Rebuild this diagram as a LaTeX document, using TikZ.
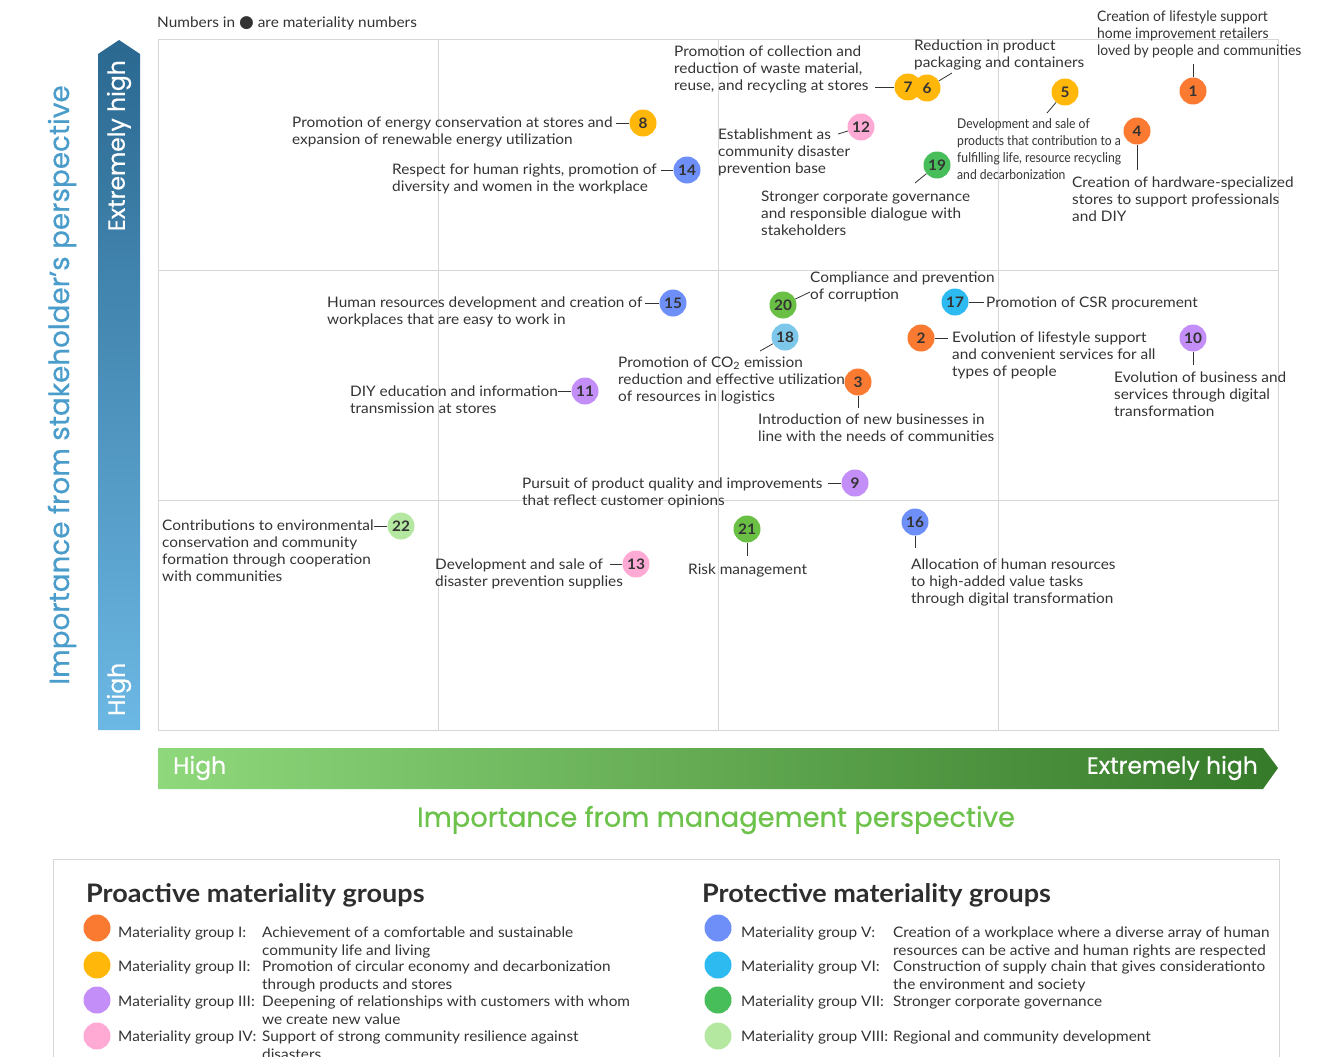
\documentclass[tikz,border=0pt]{standalone}
\usepackage{fontspec}
\setmainfont{Lato}[FakeStretch=1.06]
\newfontfamily\titlefont{Poppins}[FakeBold=0.6]
\newfontfamily\narrowA{Lato}[FakeStretch=0.96]
\newfontfamily\narrowB{Lato}[FakeStretch=0.9]
\newfontfamily\dejavu{DejaVu Sans}
\usetikzlibrary{shapes.geometric}
\definecolor{gI}{HTML}{F97A30}
\definecolor{gII}{HTML}{FFB70A}
\definecolor{gIII}{HTML}{C38EF7}
\definecolor{gIV}{HTML}{FFAAD5}
\definecolor{gV}{HTML}{6F8FF8}
\definecolor{gVI}{HTML}{2CBAF0}
\definecolor{gVIb}{HTML}{7DC7EA}
\definecolor{gVII}{HTML}{48BE5A}
\definecolor{gVIIb}{HTML}{6ABF45}
\definecolor{gVIII}{HTML}{B4E8A0}
\definecolor{gridc}{HTML}{D6D6D6}
\definecolor{txt}{HTML}{333333}
\definecolor{bluetop}{HTML}{2A6890}
\definecolor{bluebot}{HTML}{6CB8E4}
\definecolor{greenl}{HTML}{8FD87B}
\definecolor{greend}{HTML}{357A29}
\definecolor{axblue}{HTML}{4A9CCB}
\definecolor{axgreen}{HTML}{6CC24A}
\begin{document}
\begin{tikzpicture}[x=1pt,y=-1pt,
  mc/.style={circle, minimum size=27pt, inner sep=0pt, font=\fontsize{14.5}{14.5}\selectfont\bfseries, text=txt},
  lc/.style={circle, minimum size=27pt, inner sep=0pt},
  lbl/.style={anchor=base west, align=left, inner sep=0pt, font=\fontsize{14.5}{17}\selectfont, text=txt},
  lblA/.style={lbl, font=\narrowA\fontsize{14.5}{17}\selectfont},
  lblB/.style={lbl, font=\narrowB\fontsize{13.5}{17}\selectfont},
  ln/.style={draw=txt, line width=0.8pt},
  grid/.style={draw=gridc, line width=1pt},
  leg/.style={anchor=base west, align=left, inner sep=0pt, font=\fontsize{14.5}{18}\selectfont, text=txt},
  legt/.style={anchor=base west, inner sep=0pt, font=\bfseries\fontsize{25.5}{28}\selectfont, text=txt!90!black},
  axt/.style={font=\titlefont\fontsize{23.5}{26}\selectfont, text=white, inner sep=0pt}
]
\useasboundingbox (0,0) rectangle (1326,1057);
% grid
\draw[grid] (158,40) rectangle (1278,730);
\foreach \xx in {438,718,998} \draw[grid] (\xx,40) -- (\xx,730);
\foreach \yy in {270,500} \draw[grid] (158,\yy) -- (1278,\yy);
% axes arrows
\shade[top color=bluetop, bottom color=bluebot] (98,730) -- (98,54) -- (119,40) -- (140,54) -- (140,730) -- cycle;
\shade[left color=greenl, right color=greend] (158,748) -- (1263,748) -- (1278,768) -- (1263,789) -- (158,789) -- cycle;
\node[axt, rotate=90, anchor=west] (yhigh) at (119,716) {High};
\node[axt, rotate=90, anchor=east] (yext) at (119,60) {Extremely high};
\node[axt, anchor=west] (xhigh) at (173,768) {High};
\node[axt, anchor=east] (xext) at (1258,768) {Extremely high};
\node[rotate=90, font=\titlefont\fontsize{27.8}{30}\selectfont, text=axblue] (ytitle) at (62,385) {Importance from stakeholder’s perspective};
\node[font=\titlefont\fontsize{27.3}{30}\selectfont, text=axgreen] (xtitle) at (716,820) {Importance from management perspective};
% note
\node[lbl] (note) at (157,28) {Numbers in {\dejavu\fontsize{17}{17}\selectfont ●} are materiality numbers};
% circles
\node[mc,fill=gI] (c1) at (1193,91) {1};
\node[mc,fill=gI] (c2) at (921,338) {2};
\node[mc,fill=gI] (c3) at (858,382) {3};
\node[mc,fill=gI] (c4) at (1137,131) {4};
\node[mc,fill=gII] (c5) at (1065,92) {5};
\node[mc,fill=gII] (c7) at (908,87) {7};
\node[mc,fill=gII] (c6) at (927,88) {6};
\node[mc,fill=gII] (c8) at (643,123) {8};
\node[mc,fill=gIII] (c9) at (855,483) {9};
\node[mc,fill=gIII] (c10) at (1193,338) {10};
\node[mc,fill=gIII] (c11) at (585,391) {11};
\node[mc,fill=gIV] (c12) at (861,127) {12};
\node[mc,fill=gIV] (c13) at (636,564) {13};
\node[mc,fill=gV] (c14) at (687,170) {14};
\node[mc,fill=gV] (c15) at (673,303) {15};
\node[mc,fill=gV] (c16) at (915,522) {16};
\node[mc,fill=gVI] (c17) at (955,302) {17};
\node[mc,fill=gVIb] (c18) at (785,337) {18};
\node[mc,fill=gVII] (c19) at (937,165) {19};
\node[mc,fill=gVIIb] (c20) at (783,305) {20};
\node[mc,fill=gVIIb] (c21) at (747,529) {21};
\node[mc,fill=gVIII] (c22) at (401,526) {22};
% connector ends
\coordinate (e1) at (1193,64);
\coordinate (e2) at (948,338);
\coordinate (e3) at (858,408);
\coordinate (e4) at (1137,170);
\coordinate (e5) at (1047,113);
\coordinate (e6) at (952,73);
\coordinate (e7) at (875,87);
\coordinate (e8) at (616,123);
\coordinate (e9) at (828,483);
\coordinate (e10) at (1193,365);
\coordinate (e11) at (558,391);
\coordinate (e12) at (838,134);
\coordinate (e13) at (610,564);
\coordinate (e14) at (661,170);
\coordinate (e15) at (645,303);
\coordinate (e16) at (915,548);
\coordinate (e17) at (984,302);
\coordinate (e18) at (760,351);
\coordinate (e19) at (915,183);
\coordinate (e20) at (810,292);
\coordinate (e21) at (747,556);
\coordinate (e22) at (374,526);
\foreach \i in {1,2,3,4,5,6,7,8,9,10,11,12,13,14,15,16,17,18,19,20,21,22}
  \draw[ln] (c\i) -- (e\i);
% labels (anchor = baseline of last line)
\node[lblA] (l1) at (1097,56) {Creation of lifestyle support\\home improvement retailers\\loved by people and communities};
\node[lbl] (l2) at (952,376) {Evolution of lifestyle support\\and convenient services for all\\types of people};
\node[lbl] (l3) at (758,441) {Introduction of new businesses in\\line with the needs of communities};
\node[lbl] (l4) at (1072,221) {Creation of hardware-specialized\\stores to support professionals\\and DIY};
\node[lblB] (l5) at (957,179) {Development and sale of\\products that contribution to a\\fulfilling life, resource recycling\\and decarbonization};
\node[lbl] (l6) at (914,67) {Reduction in product\\packaging and containers};
\node[lbl] (l7) at (674,91) {Promotion of collection and\\reduction of waste material,\\reuse, and recycling at stores};
\node[lbl] (l8) at (292,144) {Promotion of energy conservation at stores and\\expansion of renewable energy utilization};
\node[lbl] (l9) at (522,505) {Pursuit of product quality and improvements\\that reflect customer opinions};
\node[lbl] (l10) at (1114,416) {Evolution of business and\\services through digital\\transformation};
\node[lbl] (l11) at (350,413) {DIY education and information\\transmission at stores};
\node[lbl] (l12) at (718,173) {Establishment as\\community disaster\\prevention base};
\node[lbl] (l13) at (435,586) {Development and sale of\\disaster prevention supplies};
\node[lbl] (l14) at (392,191) {Respect for human rights, promotion of\\diversity and women in the workplace};
\node[lbl] (l15) at (327,324) {Human resources development and creation of\\workplaces that are easy to work in};
\node[lbl] (l16) at (911,603) {Allocation of human resources\\to high-added value tasks\\through digital transformation};
\node[lbl] (l17) at (986,307) {Promotion of CSR procurement};
\node[lbl] (l18) at (618,401) {Promotion of CO\textsubscript{2} emission\\reduction and effective utilization\\of resources in logistics};
\node[lbl] (l19) at (761,235) {Stronger corporate governance\\and responsible dialogue with\\stakeholders};
\node[lbl] (l20) at (810,299) {Compliance and prevention\\of corruption};
\node[lbl] (l21) at (688,574) {Risk management};
\node[lbl] (l22) at (162,581) {Contributions to environmental\\conservation and community\\formation through cooperation\\with communities};
% legend box
\draw[grid] (53,1057) -- (53,859) -- (1279,859) -- (1279,1057);
\node[legt] (t1) at (86,902) {Proactive materiality groups};
\node[legt] (t2) at (702,902) {Protective materiality groups};
\node[lc,fill=gI] (g1) at (97,928) {};
\node[lc,fill=gII] (g2) at (97,965) {};
\node[lc,fill=gIII] (g3) at (97,1000) {};
\node[lc,fill=gIV] (g4) at (97,1036) {};
\node[lc,fill=gV] (g5) at (718,928) {};
\node[lc,fill=gVI] (g6) at (718,965) {};
\node[lc,fill=gVII] (g7) at (718,1000) {};
\node[lc,fill=gVIII] (g8) at (718,1036) {};
\node[leg] (n1) at (118,937) {Materiality group I:};
\node[leg] (n2) at (118,971) {Materiality group II:};
\node[leg] (n3) at (118,1006) {Materiality group III:};
\node[leg] (n4) at (118,1041) {Materiality group IV:};
\node[leg] (d1) at (262,955) {Achievement of a comfortable and sustainable\\community life and living};
\node[leg] (d2) at (262,989) {Promotion of circular economy and decarbonization\\through products and stores};
\node[leg] (d3) at (262,1024) {Deepening of relationships with customers with whom\\we create new value};
\node[leg] (d4) at (262,1059) {Support of strong community resilience against\\disasters};
\node[leg] (n5) at (741,937) {Materiality group V:};
\node[leg] (n6) at (741,971) {Materiality group VI:};
\node[leg] (n7) at (741,1006) {Materiality group VII:};
\node[leg] (n8) at (741,1041) {Materiality group VIII:};
\node[leg] (d5) at (893,955) {Creation of a workplace where a diverse array of human\\resources can be active and human rights are respected};
\node[leg] (d6) at (893,989) {Construction of supply chain that gives considerationto\\the environment and society};
\node[leg] (d7) at (893,1006) {Stronger corporate governance};
\node[leg] (d8) at (893,1041) {Regional and community development};
\end{tikzpicture}
\end{document}
